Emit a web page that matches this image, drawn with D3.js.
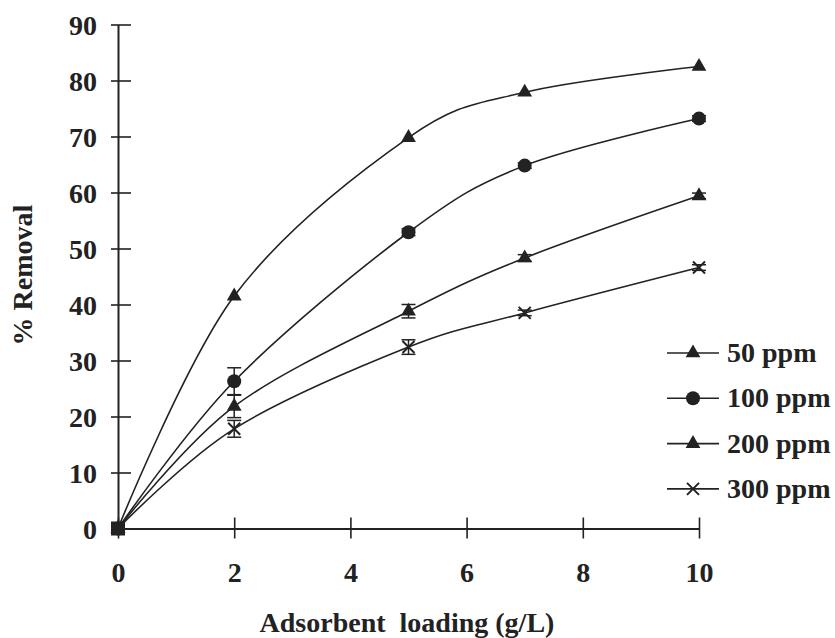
<!DOCTYPE html>
<html>
<head>
<meta charset="utf-8">
<script src="https://cdn.jsdelivr.net/npm/d3@7"></script>
<style>
  body { margin: 0; background: #fff; }
  text { font-family: "Liberation Serif", "Times New Roman", serif; font-weight: bold; fill: #222; }
</style>
</head>
<body>
<div id="chart"></div>
<script>
// DATA
var loading = [0, 2, 5, 7, 10];
var series50 = [0, 41.5, 69.8, 77.9, 82.5];
var series100 = [0, 26.3, 52.9, 64.8, 73.2];
var series200 = [0, 21.8, 38.8, 48.3, 59.4];
var series300 = [0, 17.8, 32.4, 38.5, 46.6];
var err100 = [0, 2.4, 0.6, 0.5, 0.5];
var err200 = [0, 2.0, 1.2, 0.6, 0.5];
var err300 = [0, 1.5, 1.3, 0.5, 0.5];
var seriesNames = ["50 ppm", "100 ppm", "200 ppm", "300 ppm"];
var xTicks = [0, 2, 4, 6, 8, 10];
var yTicks = [0, 10, 20, 30, 40, 50, 60, 70, 80, 90];

var series = [
  {name: seriesNames[0], values: series50, err: null, marker: "triangle"},
  {name: seriesNames[1], values: series100, err: err100, marker: "circle"},
  {name: seriesNames[2], values: series200, err: err200, marker: "triangle"},
  {name: seriesNames[3], values: series300, err: err300, marker: "cross"}
];

// set the dimensions and margins of the graph
var W = 835, H = 638;
var margin = {top: 24.5, left: 118},
    width = 581,
    height = 504;

var ink = "#222";

var x = d3.scaleLinear().domain([0, 10]).range([0, width]);
var y = d3.scaleLinear().domain([0, 90]).range([height, 0]);

var svg = d3.select("#chart").append("svg")
    .attr("width", W)
    .attr("height", H)
  .append("g")
    .attr("transform", "translate(" + margin.left + "," + margin.top + ")");

// y axis
var yAxis = svg.append("g")
    .call(d3.axisLeft(y).tickValues(yTicks).tickSize(0).tickPadding(21));
yAxis.select(".domain").attr("stroke", ink).attr("stroke-width", 2);
yAxis.selectAll(".tick text").style("font-size", "28px").attr("fill", ink).attr("dy", "0.34em");
yAxis.selectAll(".tick").append("line")
    .attr("x1", -7).attr("x2", 13)
    .attr("stroke", ink).attr("stroke-width", 1.6);

// x axis
var xAxis = svg.append("g")
    .attr("transform", "translate(0," + height + ")")
    .call(d3.axisBottom(x).tickValues(xTicks).tickSize(0).tickPadding(48));
xAxis.select(".domain").attr("stroke", ink).attr("stroke-width", 2);
xAxis.selectAll(".tick text").style("font-size", "28px").attr("fill", ink).attr("dy", "0.2em");
xAxis.selectAll(".tick").append("line")
    .attr("y1", -11).attr("y2", 10)
    .attr("stroke", ink).attr("stroke-width", 1.6);

// titles
svg.append("text")
    .attr("x", 407 - margin.left)
    .attr("y", 632 - margin.top)
    .attr("text-anchor", "middle")
    .style("font-size", "28px")
    .style("white-space", "pre")
    .text("Adsorbent  loading (g/L)");

svg.append("text")
    .attr("transform", "translate(" + (32 - margin.left) + "," + (275 - margin.top) + ") rotate(-90)")
    .attr("text-anchor", "middle")
    .style("font-size", "28px")
    .text("% Removal");

// markers
function drawMarker(g, type, cx, cy) {
  if (type === "triangle") {
    g.append("path")
      .attr("d", d3.symbol().type(d3.symbolTriangle).size(95)())
      .attr("transform", "translate(" + cx + "," + cy + ")")
      .attr("fill", ink);
  } else if (type === "circle") {
    g.append("circle").attr("cx", cx).attr("cy", cy).attr("r", 7).attr("fill", ink);
  } else {
    g.append("path")
      .attr("d", "M-6,-6L6,6M-6,6L6,-6")
      .attr("transform", "translate(" + cx + "," + cy + ")")
      .attr("stroke", ink).attr("stroke-width", 2).attr("fill", "none");
  }
}

var line = d3.line()
    .x(function(d, i) { return x(loading[i]); })
    .y(function(d) { return y(d); })
    .curve(d3.curveCardinal.tension(0));

series.forEach(function(s) {
  var g = svg.append("g");
  g.append("path")
    .attr("d", line(s.values))
    .attr("fill", "none")
    .attr("stroke", ink)
    .attr("stroke-width", 1.6);

  // error bars
  if (s.err) {
    s.values.forEach(function(v, i) {
      var e = s.err[i];
      if (!e) return;
      var cx = x(loading[i]);
      g.append("line").attr("x1", cx).attr("x2", cx)
        .attr("y1", y(v - e)).attr("y2", y(v + e))
        .attr("stroke", ink).attr("stroke-width", 1.5);
      [v - e, v + e].forEach(function(b) {
        g.append("line").attr("x1", cx - 7).attr("x2", cx + 7)
          .attr("y1", y(b)).attr("y2", y(b))
          .attr("stroke", ink).attr("stroke-width", 1.5);
      });
    });
  }

  s.values.forEach(function(v, i) {
    drawMarker(g, s.marker, x(loading[i]), y(v));
  });
});

// zero point square
svg.append("rect")
    .attr("x", x(0) - 7).attr("y", y(0) - 7)
    .attr("width", 14).attr("height", 14)
    .attr("fill", ink);

// legend
var legend = svg.append("g")
    .attr("transform", "translate(" + (667 - margin.left) + "," + (353 - margin.top) + ")");

series.forEach(function(s, i) {
  var row = legend.append("g").attr("transform", "translate(0," + (i * 45.3) + ")");
  row.append("line").attr("x1", 0).attr("x2", 52)
    .attr("stroke", ink).attr("stroke-width", 1.6);
  drawMarker(row, s.marker, 26, 0);
  row.append("text")
    .attr("x", 60).attr("y", 0).attr("dy", "0.32em")
    .style("font-size", "28px")
    .text(s.name);
});
</script>
</body>
</html>
